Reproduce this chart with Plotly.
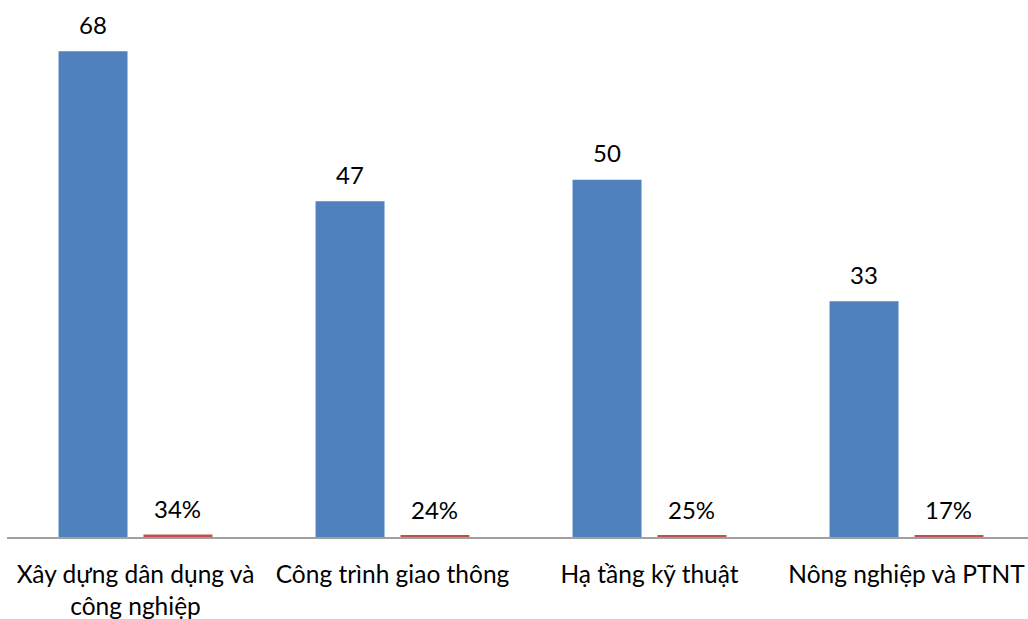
import plotly.graph_objects as go

categories = ["Xây dựng dân dụng và<br>công nghiệp", "Công trình giao thông",
              "Hạ tầng kỹ thuật", "Nông nghiệp và PTNT"]
counts = [68, 47, 50, 33]
shares = [0.34, 0.24, 0.25, 0.17]
share_labels = ["34%", "24%", "25%", "17%"]

FONT = "Lato, Open Sans, sans-serif"
FS = 24
TICK_FS = 24.5

PLOT_W = 1028 - 7
X_SPAN = PLOT_W / 257.0
BARGAP = 0.339

fig = go.Figure()
fig.add_trace(go.Bar(x=categories, y=counts, marker_color="#4F81BD", marker_line_width=0))
fig.add_trace(go.Bar(x=categories, y=shares, marker_color="#C0504D", marker_line_width=0))

slot = 257.0 * (1 - BARGAP) / 2  # pixel width of one bar slot
annotations = []
for c, v in zip(categories, counts):
    annotations.append(dict(x=c, y=v, xref="x", yref="y", text=str(v), showarrow=False,
                            yanchor="middle", yshift=27, xshift=-slot / 2,
                            font=dict(family=FONT, size=FS, color="#000000")))
for c, v, t in zip(categories, shares, share_labels):
    annotations.append(dict(x=c, y=v, xref="x", yref="y", text=t, showarrow=False,
                            yanchor="middle", yshift=26, xshift=slot / 2,
                            font=dict(family=FONT, size=FS, color="#000000")))

fig.update_layout(
    width=1028, height=619,
    margin=dict(l=7, r=0, t=37, b=82, pad=0),
    paper_bgcolor="white", plot_bgcolor="white",
    showlegend=False,
    bargap=BARGAP, bargroupgap=0.188,
    font=dict(family=FONT, size=FS, color="#000000"),
    annotations=annotations,
)
fig.update_xaxes(showline=True, linecolor="#A0A0A0", linewidth=2, ticks="",
                 tickfont=dict(size=TICK_FS), showgrid=False,
                 range=[-0.5, -0.5 + X_SPAN], ticklabelstandoff=15)
fig.update_yaxes(range=[0, 70], visible=False, showgrid=False)

fig.write_html("out.html")
